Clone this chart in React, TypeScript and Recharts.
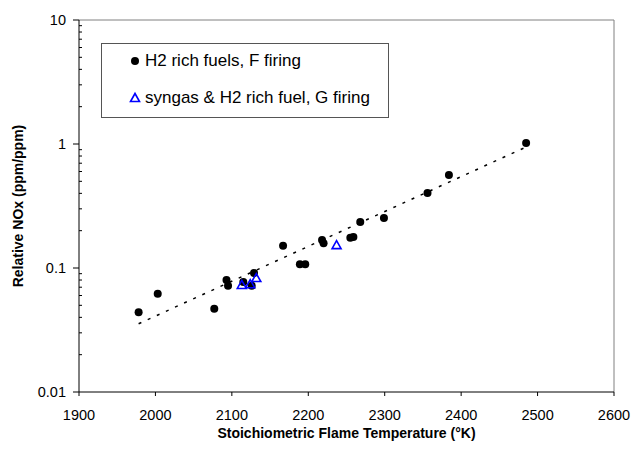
import {
  ScatterChart,
  Scatter,
  XAxis,
  YAxis,
  ReferenceLine,
  Label,
} from 'recharts';

// H2 rich fuels, F firing
const fFiringTemp = [1978, 2003, 2077, 2093, 2095, 2115, 2126, 2129, 2167, 2189, 2196, 2218, 2220, 2255, 2259, 2268, 2299, 2356, 2384, 2485];
const fFiringNox = [0.044, 0.062, 0.047, 0.080, 0.072, 0.077, 0.072, 0.091, 0.151, 0.107, 0.107, 0.168, 0.158, 0.175, 0.178, 0.235, 0.253, 0.402, 0.562, 1.02];

// syngas & H2 rich fuel, G firing
const gFiringTemp = [2113, 2124, 2132, 2237];
const gFiringNox = [0.073, 0.074, 0.083, 0.153];

// dotted trend line end points
const trendTemp = [1978, 2485];
const trendNox = [0.0355, 0.946];

const xTicks = [1900, 2000, 2100, 2200, 2300, 2400, 2500, 2600];
const yTicks = [
  0.01, 0.02, 0.03, 0.04, 0.05, 0.06, 0.07, 0.08, 0.09,
  0.1, 0.2, 0.3, 0.4, 0.5, 0.6, 0.7, 0.8, 0.9,
  1, 2, 3, 4, 5, 6, 7, 8, 9, 10,
];
const yMajor = [0.01, 0.1, 1, 10];

const fData = fFiringTemp.map((t, i) => ({ t, nox: fFiringNox[i] }));
const gData = gFiringTemp.map((t, i) => ({ t, nox: gFiringNox[i] }));
const trendData = trendTemp.map((t, i) => ({ t, nox: trendNox[i] }));

const FONT = '"Liberation Sans", Arial, sans-serif';
const AXIS_X = 79;

const Dot = ({ cx, cy }: any) => <circle cx={cx} cy={cy} r={4} fill="#000" />;

const Tri = ({ cx, cy }: any) => (
  <polygon
    points={`${cx},${cy - 4.5} ${cx - 4.5},${cy + 3.5} ${cx + 4.5},${cy + 3.5}`}
    fill="none"
    stroke="#0000ff"
    strokeWidth={1.6}
  />
);

const NoShape = () => <g />;

const YTick = ({ x, y, payload }: any) => {
  const v = payload.value;
  const major = yMajor.some((m) => Math.abs(m - v) < 1e-9);
  return (
    <g>
      <line
        x1={major ? AXIS_X - 6 : AXIS_X}
        x2={major ? AXIS_X : AXIS_X + 3}
        y1={y}
        y2={y}
        stroke="#000"
      />
      {major && (
        <text x={x} y={y} dy="0.355em" textAnchor="end" fontSize={14.5} fontFamily={FONT} fill="#000">
          {v}
        </text>
      )}
    </g>
  );
};

function LegendBox() {
  return (
    <div
      style={{
        position: 'absolute',
        left: 101,
        top: 43,
        width: 288,
        height: 75,
        boxSizing: 'border-box',
        border: '1px solid #555',
        background: '#fff',
        fontFamily: FONT,
        fontSize: 17,
        color: '#000',
      }}
    >
      <svg width={20} height={75} style={{ position: 'absolute', left: 23, top: -1 }}>
        <circle cx={10} cy={18} r={4} fill="#000" />
        <polygon points="10,50.5 5.5,58.5 14.5,58.5" fill="none" stroke="#0000ff" strokeWidth={1.6} />
      </svg>
      <div style={{ position: 'absolute', left: 43, top: 7, whiteSpace: 'nowrap' }}>H2 rich fuels, F firing</div>
      <div style={{ position: 'absolute', left: 43, top: 44, whiteSpace: 'nowrap' }}>
        syngas &amp; H2 rich fuel, G firing
      </div>
    </div>
  );
}

export default function App() {
  return (
    <div style={{ position: 'absolute', left: 0, top: 0, width: 634, height: 452, background: '#fff' }}>
      <ScatterChart width={634} height={452} margin={{ top: 20, right: 20, bottom: 0, left: 0 }}>
        <XAxis
          type="number"
          dataKey="t"
          domain={[1900, 2600]}
          ticks={xTicks}
          allowDataOverflow
          height={60}
          tickSize={4}
          tickMargin={14}
          stroke="#000"
          tick={{ fill: '#000', fontSize: 14.5, fontFamily: FONT }}
        >
          <Label
            value="Stoichiometric Flame Temperature (°K)"
            position="insideBottom"
            offset={14}
            style={{ fontWeight: 'bold', fontSize: 14, fontFamily: FONT, fill: '#000' }}
          />
        </XAxis>
        <YAxis
          type="number"
          dataKey="nox"
          scale="log"
          domain={[0.01, 10]}
          ticks={yTicks}
          allowDataOverflow
          width={79}
          tickSize={6}
          tickMargin={7}
          tickLine={false}
          stroke="#000"
          tick={<YTick />}
          interval={0}
        >
          <Label
            value="Relative NOx (ppm/ppm)"
            angle={-90}
            position="insideLeft"
            offset={18}
            style={{ fontWeight: 'bold', fontSize: 14, fontFamily: FONT, fill: '#000', textAnchor: 'middle' }}
          />
        </YAxis>
        <ReferenceLine y={10} stroke="#808080" />
        <ReferenceLine x={2600} stroke="#808080" />
        <Scatter
          data={trendData}
          line={{ stroke: '#000', strokeWidth: 1.5, strokeDasharray: '3 7' }}
          shape={<NoShape />}
          isAnimationActive={false}
        />
        <Scatter data={fData} shape={<Dot />} isAnimationActive={false} />
        <Scatter data={gData} shape={<Tri />} isAnimationActive={false} />
      </ScatterChart>
      <LegendBox />
    </div>
  );
}
